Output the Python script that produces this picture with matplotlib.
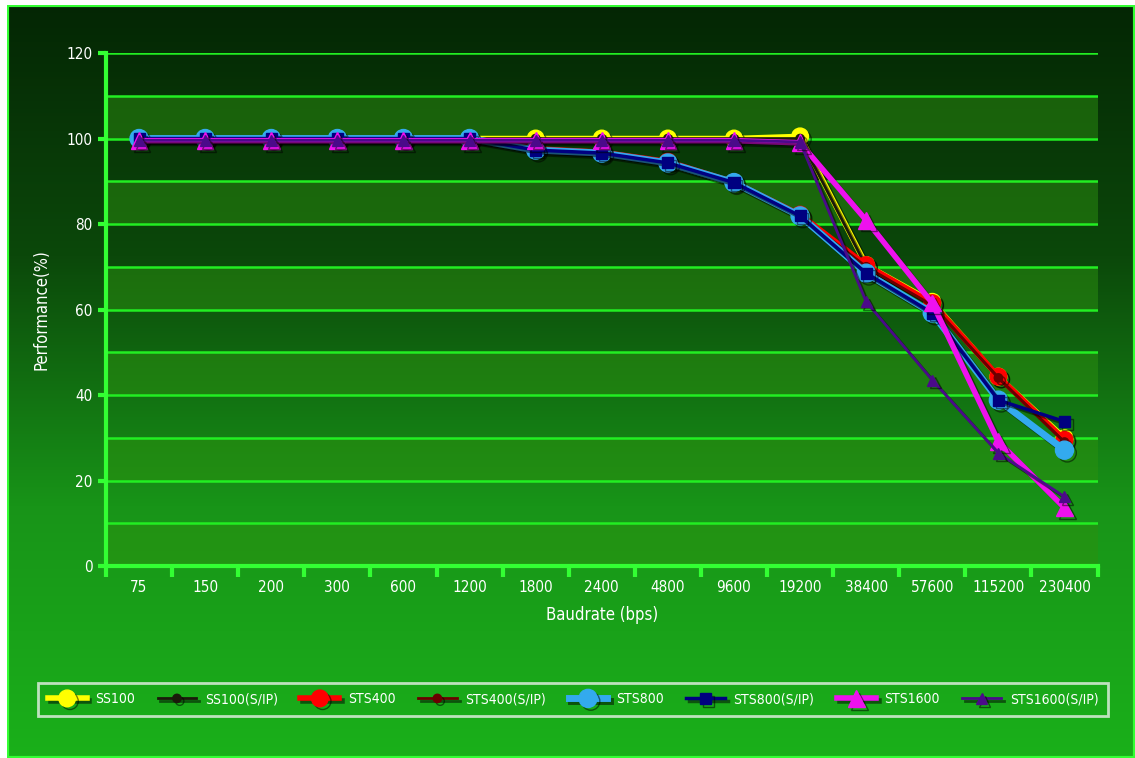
import matplotlib
matplotlib.use('Agg')
import matplotlib.pyplot as plt
import matplotlib.patheffects as pe
import numpy as np
from matplotlib.colors import LinearSegmentedColormap

plt.rcParams['font.family'] = ['DejaVu Sans']
plt.rcParams['font.stretch'] = 'condensed'

baud = ['75', '150', '200', '300', '600', '1200', '1800', '2400', '4800',
        '9600', '19200', '38400', '57600', '115200', '230400']

ss100 = [100, 100, 100, 100, 100, 100, 100, 100, 100, 100, 100.5, 70.4, 61.8, 44.3, 29.9]
ss100_sip = [100, 100, 100, 100, 100, 100, 100, 100, 100, 100, 100, 70, 61.5, 44, 29.5]
sts400 = [100, 100, 100, 100, 100, 100, 97.6, 96.8, 94.6, 89.8, 82.2, 70.4, 61.5, 44.3, 29.5]
sts400_sip = [100, 100, 100, 100, 100, 100, 97.5, 96.7, 94.5, 89.7, 82, 70, 61, 44, 29]
sts800 = [100, 100, 100, 100, 100, 100, 97.3, 96.6, 94.3, 89.7, 81.9, 68.5, 59.2, 38.8, 27.1]
sts800_sip = [100, 100, 100, 100, 100, 100, 97.3, 96.6, 94.3, 89.7, 81.9, 68.5, 59.2, 38.8, 33.8]
sts1600 = [99.5, 99.5, 99.5, 99.5, 99.5, 99.5, 99.5, 99.5, 99.5, 99.5, 99, 80.9, 61.5, 29.1, 13.6]
sts1600_sip = [99.6, 99.6, 99.6, 99.6, 99.6, 99.6, 99.6, 99.6, 99.6, 99.6, 99.2, 61.8, 43.5, 26.4, 16.2]

series = [
    ('SS100', ss100, '#ffff00', 'o', 4, 12),
    ('SS100(S/IP)', ss100_sip, '#1a1a0a', 'o', 2, 6),
    ('STS400', sts400, '#ff0000', 'o', 4, 12),
    ('STS400(S/IP)', sts400_sip, '#6a0000', 'o', 2, 6),
    ('STS800', sts800, '#33aaee', 'o', 5, 13),
    ('STS800(S/IP)', sts800_sip, '#000080', 's', 2.5, 8),
    ('STS1600', sts1600, '#ee11ee', '^', 4, 12),
    ('STS1600(S/IP)', sts1600_sip, '#4b0a8a', '^', 2, 8),
]

fig = plt.figure(figsize=(11.35, 7.58), dpi=100)
fig.patch.set_facecolor('white')

# gradient background with green border
bg = fig.add_axes([0.006, 0.0, 0.994, 0.994])
bg.set_axis_off()
grad = np.linspace(0, 1, 256).reshape(-1, 1)
cmap = LinearSegmentedColormap.from_list('g', ['#042604', '#0b480a', '#189418', '#1ab01a'])
bg.imshow(grad, aspect='auto', cmap=cmap, extent=[0, 1, 0, 1], origin='upper')
bg.add_patch(plt.Rectangle((0, 0), 1, 1, transform=bg.transAxes, fill=False,
                           edgecolor='#33ff33', linewidth=3))

ax = fig.add_axes([0.0934, 0.2533, 0.8736, 0.6767])
ax.patch.set_alpha(0)
x = np.arange(len(baud))

for i in range(0, 120, 10):
    if (i // 10) % 2 == 0:
        ax.axhspan(i, i + 10, color='#2c9010', alpha=0.5, lw=0, zorder=0)
for v in range(0, 121, 10):
    ax.axhline(v, color='#22ee22', lw=1.8, zorder=1)

for name, vals, col, mk, lw, ms in series:
    ax.plot(x, vals, color=col, lw=lw, marker=mk, ms=ms, label=name, zorder=3,
            markeredgecolor=col,
            path_effects=[pe.SimpleLineShadow(offset=(2, -2), alpha=0.5), pe.Normal()])

ax.set_xlim(-0.5, len(baud) - 0.5)
ax.set_ylim(0, 120)
ax.set_yticks(range(0, 121, 20))
ax.set_xticks(x)
ax.set_xticklabels(baud)
ax.set_xticks(np.arange(-0.5, len(baud), 1), minor=True)
ax.tick_params(axis='x', which='major', length=0, colors='white', labelsize=11, pad=10)
ax.tick_params(axis='x', which='minor', length=8, width=3, color='#33ff33', direction='out')
ax.tick_params(axis='y', length=6, width=3, color='#33ff33', colors='white', labelsize=11)
for s in ['top', 'right']:
    ax.spines[s].set_visible(False)
for s in ['left', 'bottom']:
    ax.spines[s].set_color('#33ff33')
    ax.spines[s].set_linewidth(3)

ax.set_xlabel('Baudrate (bps)', color='white', fontsize=12, labelpad=8)
ax.set_ylabel('Performance(%)', color='white', fontsize=12, labelpad=12)

handles, labels = ax.get_legend_handles_labels()
leg = fig.legend(handles, labels, loc='lower left',
                 bbox_to_anchor=(38 / 1135, 1 - 716 / 758, 1070 / 1135, 42 / 758),
                 mode='expand', ncol=8, frameon=True, fontsize=10,
                 handlelength=2.8, handletextpad=0.6, columnspacing=0.8,
                 borderaxespad=0, borderpad=0.7, fancybox=False)
leg.get_frame().set_facecolor('none')
leg.get_frame().set_edgecolor('#e8f0e8')
leg.get_frame().set_linewidth(2)
for t in leg.get_texts():
    t.set_color('white')

fig.savefig('out.png', dpi=100)
